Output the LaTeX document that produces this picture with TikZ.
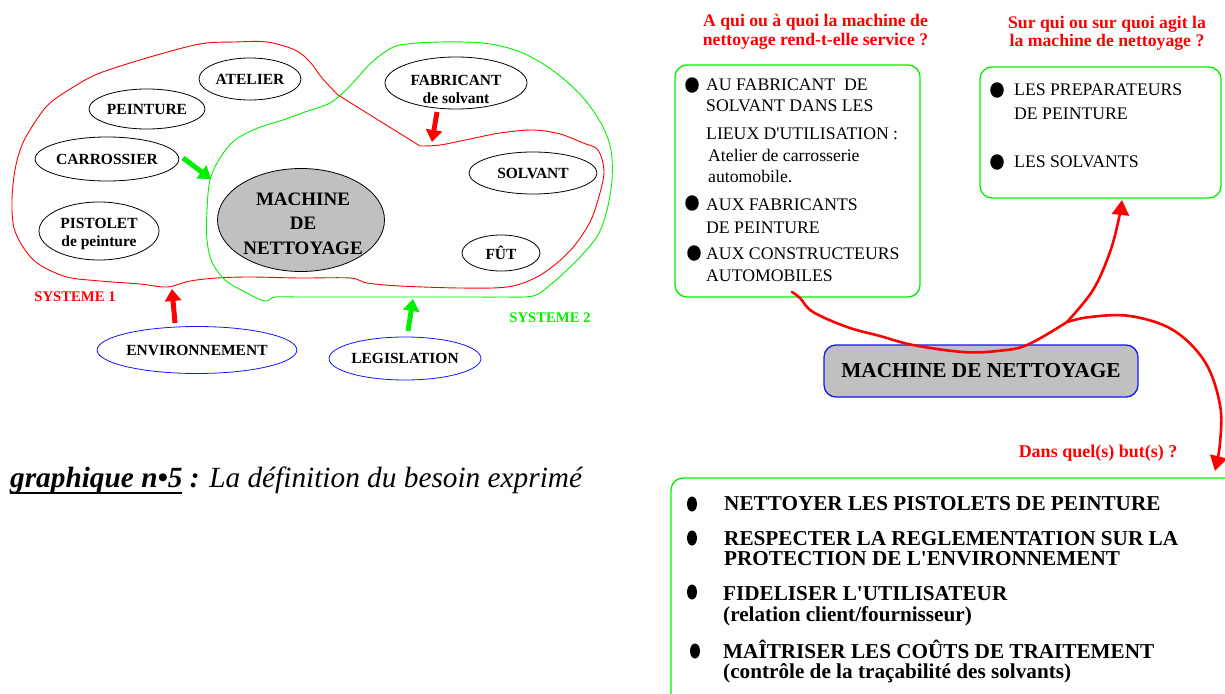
\documentclass[tikz,border=0pt]{standalone}
\usepackage{fontspec}
\setmainfont{Liberation Serif}[Ligatures=TeXOff]
\usetikzlibrary{arrows.meta,shapes.geometric}
\definecolor{sysred}{RGB}{255,0,0}
\definecolor{sysgreen}{RGB}{0,240,0}
\definecolor{sysblue}{RGB}{20,20,255}
\definecolor{machgray}{RGB}{192,192,192}
% heavy underline for the caption title
\newcommand{\heavyul}[1]{\vtop{\hbox{#1}\kern-1.5pt\hrule height 1.8pt}}
\begin{document}
\begin{tikzpicture}[x=1pt,y=-1pt,
  elem/.style={ellipse, draw, line width=0.8pt, inner sep=0pt, align=center,
    font=\bfseries\fontsize{15.5}{18}\selectfont},
  extelem/.style={elem, draw=sysblue},
  inner/.style={align=center, inner sep=0pt, font=\bfseries\fontsize{15.5}{18}\selectfont},
  bigarrow/.style={line width=5pt, -{Triangle[length=12pt,width=16pt]}},
  blob/.style={line width=0.9pt},
  panel/.style={draw=sysgreen, line width=1.3pt, rounded corners=12pt, inner sep=0pt},
  question/.style={text=sysred, align=center, inner sep=0pt,
    font=\bfseries\fontsize{17.7}{18.5}\selectfont},
  itemtxt/.style={anchor=base west, inner sep=0pt, font=\fontsize{17.7}{20}\selectfont},
  goaltxt/.style={anchor=base west, inner sep=0pt, font=\bfseries\fontsize{21.2}{22}\selectfont},
  dot/.style={ellipse, fill=black, inner sep=0pt, minimum width=13.5pt, minimum height=15.5pt},
  goaldot/.style={ellipse, fill=black, inner sep=0pt, minimum width=10pt, minimum height=15pt},
  horn/.style={draw=sysred, line width=2.6pt, line join=round, line cap=round}
]
\useasboundingbox (0,0) rectangle (1225,693);
\clip (0,0) rectangle (1225,693);

% ---------- system boundaries ----------
% SYSTEME 1 (red)
\draw[blob, sysred] plot[smooth, tension=0.55] coordinates {
  (420,146) (440,145) (470,139) (500,133) (533,130) (560,134) (583,143) (598,150)
  (604,172) (598,200) (590,222) (575,245) (557,263) (535,278) (507,287) (460,288)
  (400,286) (367,283) (350,278) (300,278) (250,277) (217,278) (190,281) (167,287)
  (140,284) (100,281) (67,277) (40,265) (25,250) (14,228) (12,200) (15,170)
  (22,145) (35,122) (50,103) (75,86) (100,73) (150,57) (200,44) (235,42)
  (267,42) (295,50) (310,62) (322,78) (338,95)} -- cycle;
% SYSTEME 2 (green)
\draw[blob, sysgreen] plot[smooth cycle, tension=0.55] coordinates {
  (400,45) (440,42) (483,43) (515,50) (540,62) (565,80) (585,100) (602,125)
  (611,150) (612,180) (607,210) (598,235) (582,255) (567,270) (550,285)
  (533,296) (500,297) (467,297) (410,297) (350,297) (300,297) (275,297)
  (265,301) (245,292) (225,280) (212,262) (207,240) (207,210) (210,180)
  (220,158) (235,140) (258,128) (283,120) (305,112) (330,103) (348,88)
  (367,67) (382,54)};

% ---------- elements ----------
\node[elem, minimum width=102pt, minimum height=42pt] (atelier) at (250,79) {ATELIER};
\node[elem, minimum width=116pt, minimum height=40pt] (peinture) at (147,109) {PEINTURE};
\node[elem, minimum width=142pt, minimum height=44pt] (carrossier) at (107,159) {CARROSSIER};
\node[elem, minimum width=120pt, minimum height=58pt] (pistolet) at (99,231) {};
\node[inner] (pistoletTxt) at (99,234) {PISTOLET\\de peinture};
\node[elem, fill=machgray, minimum width=167pt, minimum height=103pt] (machine) at (301,220) {};
\node[inner, font=\bfseries\fontsize{19}{24.5}\selectfont] (machineTxt) at (303,223.5) {MACHINE\\DE\\NETTOYAGE};
\node[elem, minimum width=142pt, minimum height=52pt] (fabricant) at (456,83) {};
\node[inner] (fabricantTxt) at (456,89) {FABRICANT\\de solvant};
\node[elem, minimum width=128pt, minimum height=42pt] (solvant) at (533,173) {SOLVANT};
\node[elem, minimum width=78pt, minimum height=36pt] (fut) at (501,253) {FÛT};
\node[extelem, minimum width=190pt, minimum height=47pt] (env) at (197,350) {ENVIRONNEMENT};
\node[extelem, minimum width=145pt, minimum height=43pt] (legis) at (405,358.5) {LEGISLATION};

\node[text=sysred, inner sep=0pt, font=\bfseries\fontsize{14.7}{16}\selectfont] (sys1) at (75,297) {SYSTEME 1};
\node[text=sysgreen, inner sep=0pt, font=\bfseries\fontsize{14.7}{16}\selectfont] (sys2) at (550,318) {SYSTEME 2};

% ---------- influence arrows ----------
\coordinate (carA) at (183,158);  \coordinate (carB) at (211,179);
\coordinate (fabA) at (437,112);  \coordinate (fabB) at (432,142);
\coordinate (envA) at (175,323);  \coordinate (envB) at (172,289);
\coordinate (legA) at (408,331);  \coordinate (legB) at (413,299);
\draw[bigarrow, sysgreen] (carA) -- (carB);
\draw[bigarrow, sysred] (fabA) -- (fabB);
\draw[bigarrow, sysred] (envA) -- (envB);
\draw[bigarrow, sysgreen] (legA) -- (legB);

% ---------- caption ----------
\node[anchor=base west, inner sep=0pt, font=\fontsize{29.3}{33}\selectfont] (caption) at (10,487)
  {\textbf{\textit{\heavyul{graphique n•5} :}} \textit{La définition du besoin exprimé}};

% ---------- questions ----------
\node[question] (q1) at (815.5,32) {A qui ou à quoi la machine de\\nettoyage rend-t-elle service ?};
\node[question] (q2) at (1107,33.5) {Sur qui ou sur quoi agit la\\la machine de nettoyage ?};
\node[question, font=\bfseries\fontsize{18}{20}\selectfont] (q3) at (1098,453) {Dans quel(s) but(s) ?};

% ---------- panels ----------
\node[panel, minimum width=245pt, minimum height=232pt] (who) at (797.5,181) {};
\node[panel, minimum width=241pt, minimum height=131pt] (what) at (1100.5,132.5) {};
\node[panel, minimum width=580pt, minimum height=240pt] (why) at (961,598) {};
\node[draw=sysblue, fill=machgray, line width=1.3pt, rounded corners=12pt,
  minimum width=314pt, minimum height=52pt, inner sep=0pt,
  font=\bfseries\fontsize{21.3}{24}\selectfont] (core) at (981,371) {MACHINE DE NETTOYAGE};

% who
\node[dot] (wd1) at (692,85) {};
\node[dot] (wd2) at (692,203) {};
\node[dot] (wd3) at (694,253) {};
\node[itemtxt] (w1) at (706,90.7) {AU FABRICANT~ DE};
\node[itemtxt] (w2) at (706,111.7) {SOLVANT DANS LES};
\node[itemtxt] (w3) at (706,139.3) {LIEUX D'UTILISATION :};
\node[itemtxt] (w4) at (708,161.7) {Atelier de carrosserie};
\node[itemtxt] (w5) at (708,182.7) {automobile.};
\node[itemtxt] (w6) at (706,210) {AUX FABRICANTS};
\node[itemtxt] (w7) at (706,233.3) {DE PEINTURE};
\node[itemtxt] (w8) at (706,259) {AUX CONSTRUCTEURS};
\node[itemtxt] (w9) at (706,281.7) {AUTOMOBILES};

% what
\node[dot] (ad1) at (997,90) {};
\node[dot] (ad2) at (997,162) {};
\node[itemtxt] (a1) at (1014,95) {LES PREPARATEURS};
\node[itemtxt] (a2) at (1014,119.3) {DE PEINTURE};
\node[itemtxt] (a3) at (1014,167.7) {LES SOLVANTS};

% why
\node[goaldot] (gd1) at (692,504) {};
\node[goaldot] (gd2) at (692,538) {};
\node[goaldot] (gd3) at (692,592) {};
\node[goaldot] (gd4) at (695,651) {};
\node[goaltxt] (g1) at (724,510) {NETTOYER LES PISTOLETS DE PEINTURE};
\node[goaltxt] (g2) at (724,545) {RESPECTER LA REGLEMENTATION SUR LA};
\node[goaltxt] (g3) at (724,565) {PROTECTION DE L'ENVIRONNEMENT};
\node[goaltxt] (g4) at (723,600) {FIDELISER L'UTILISATEUR};
\node[goaltxt] (g5) at (723,621.7) {(relation client/fournisseur)};
\node[goaltxt] (g6) at (723,658.3) {MAÎTRISER LES COÛTS DE TRAITEMENT};
\node[goaltxt] (g7) at (723,678) {(contrôle de la traçabilité des solvants)};

% ---------- horned links ----------
\coordinate (hornStart) at (792,292);
\coordinate (hornFork) at (1067,322);
\coordinate (hornUp) at (1122,200);
\coordinate (hornDown) at (1215,471);
\draw[horn] plot[smooth, tension=0.6] coordinates {
  (hornStart) (800,298) (813,312) (847,327) (880,336) (913,345) (963,352)
  (997,351) (1027,345) (hornFork)};
\draw[horn, -{Triangle[length=15pt,width=17pt]}] plot[smooth, tension=0.6] coordinates {
  (hornFork) (1093,290) (1110,252) (1119,218) (hornUp)};
\draw[horn, -{Triangle[length=15pt,width=17pt]}] plot[smooth, tension=0.6] coordinates {
  (hornFork) (1090,317) (1130,316) (1173,330) (1205,362) (1220,405) (1220,443) (hornDown)};
\end{tikzpicture}
\end{document}
